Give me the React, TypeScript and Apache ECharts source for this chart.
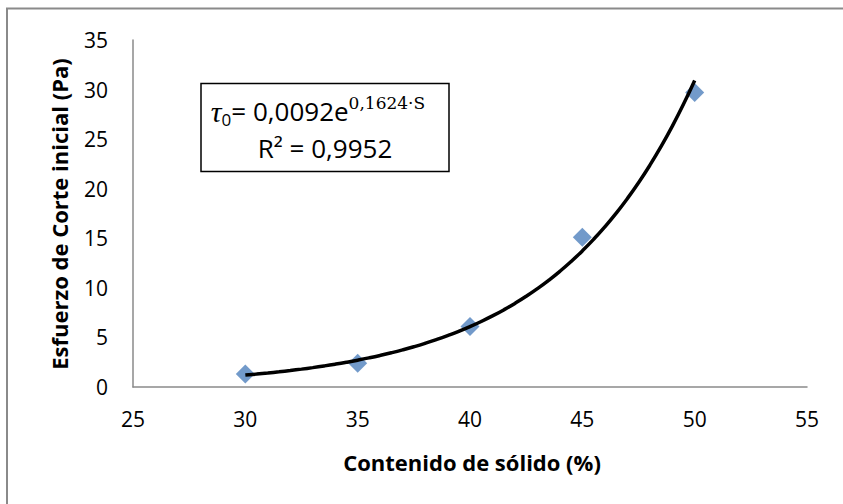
import React, { useEffect, useRef } from "react";
import * as echarts from "echarts";

// Data
const solidContent = [30, 35, 40, 45, 50];
const shearStress = [1.3, 2.4, 6.1, 15.1, 29.7];

// Trendline shown on chart: τ0 = 0.0092 e^(0.1624·S)
const fitA = 0.0092;
const fitB = 0.1624;
const fitStart = 30;
const fitEnd = 50;
const fitSteps = 40;

const xTitle = "Contenido de sólido (%)";
const yTitle = "Esfuerzo de Corte inicial (Pa)";
const eqMain = "= 0,0092e";
const eqSup = "0,1624·S";
const eqR2 = "R² = 0,9952";

const SANS = "'Open Sans', 'Noto Sans', sans-serif";
const SERIF = "'DejaVu Serif', 'Liberation Serif', serif";
const SERIF_IT = "'Liberation Serif', 'DejaVu Serif', serif";

export default function App() {
  const ref = useRef<HTMLDivElement>(null);

  useEffect(() => {
    if (!ref.current) return;
    const chart = echarts.init(ref.current, undefined, { renderer: "svg" });

    const trend: number[][] = [];
    for (let i = 0; i <= fitSteps; i++) {
      const s = fitStart + ((fitEnd - fitStart) * i) / fitSteps;
      trend.push([s, fitA * Math.exp(fitB * s)]);
    }

    chart.setOption({
      animation: false,
      backgroundColor: "#fff",
      grid: { left: 133, right: 36, top: 40, bottom: 117, containLabel: false },
      xAxis: {
        type: "value",
        min: 25,
        max: 55,
        interval: 5,
        axisLine: { show: true, lineStyle: { color: "#8a8a8a", width: 1.5 } },
        axisTick: { show: false },
        splitLine: { show: false },
        axisLabel: { color: "#000", fontFamily: SANS, fontSize: 21, margin: 21 },
      },
      yAxis: {
        type: "value",
        min: 0,
        max: 35,
        interval: 5,
        axisLine: { show: true, lineStyle: { color: "#8a8a8a", width: 1.5 } },
        axisTick: { show: false },
        splitLine: { show: false },
        axisLabel: { color: "#000", fontFamily: SANS, fontSize: 21, margin: 25 },
      },
      series: [
        {
          type: "scatter",
          data: solidContent.map((x, i) => [x, shearStress[i]]),
          symbol: "diamond",
          symbolSize: 19,
          itemStyle: { color: "#4F81BD" },
          z: 2,
        },
        {
          type: "line",
          data: trend,
          smooth: true,
          showSymbol: false,
          lineStyle: { color: "#000", width: 3.5 },
          z: 3,
        },
      ],
      graphic: [
        {
          type: "rect",
          shape: { x: 7, y: 8.5, width: 900, height: 600 },
          style: { fill: "none", stroke: "#8a8a8a", lineWidth: 2 },
          z: 0,
        },
        {
          type: "text",
          x: 472,
          y: 462,
          style: {
            text: xTitle,
            fontFamily: SANS,
            fontWeight: "bold",
            fontSize: 22,
            fill: "#000",
            align: "center",
            verticalAlign: "middle",
          },
        },
        {
          type: "text",
          x: 59,
          y: 214,
          rotation: Math.PI / 2,
          style: {
            text: yTitle,
            fontFamily: SANS,
            fontWeight: "bold",
            fontSize: 22,
            fill: "#000",
            align: "center",
            verticalAlign: "middle",
          },
        },
        {
          type: "rect",
          shape: { x: 201, y: 83.5, width: 248, height: 88 },
          style: { fill: "#fff", stroke: "#000", lineWidth: 1.5 },
          z: 10,
        },
        {
          type: "text",
          x: 318,
          y: 94,
          z: 11,
          style: {
            text: `{tau|τ}{sub|0}{main|${eqMain}}{sup|${eqSup}}`,
            align: "center",
            verticalAlign: "top",
            fill: "#000",
            rich: {
              tau: { fontFamily: SERIF_IT, fontStyle: "italic", fontSize: 30, lineHeight: 34, verticalAlign: "middle" },
              sub: { fontFamily: SANS, fontSize: 17, lineHeight: 25, verticalAlign: "bottom" },
              main: { fontFamily: SANS, fontSize: 26, lineHeight: 34, verticalAlign: "middle" },
              sup: { fontFamily: SERIF, fontSize: 17, lineHeight: 8, verticalAlign: "top" },
            },
          },
        },
        {
          type: "text",
          x: 325,
          y: 148,
          z: 11,
          style: {
            text: eqR2,
            fontFamily: SANS,
            fontSize: 26,
            fill: "#000",
            align: "center",
            verticalAlign: "middle",
          },
        },
      ],
    });

    return () => chart.dispose();
  }, []);

  return (
    <div
      ref={ref}
      style={{ position: "absolute", left: 0, top: 0, width: 843, height: 504 }}
    />
  );
}
